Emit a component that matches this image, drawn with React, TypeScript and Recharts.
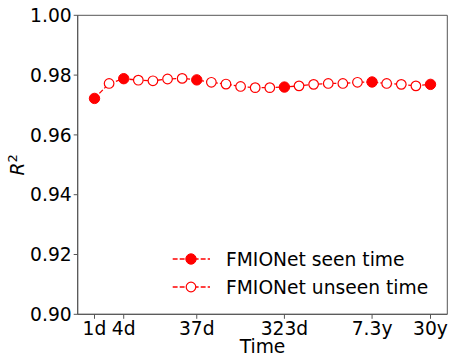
import React from 'react';
import { ComposedChart, Line, XAxis, YAxis, Legend, ReferenceArea } from 'recharts';

const timeIndex = [0, 1, 2, 3, 4, 5, 6, 7, 8, 9, 10, 11, 12, 13, 14, 15, 16, 17, 18, 19, 20, 21, 22, 23];
const r2Values = [0.9722, 0.9772, 0.9788, 0.9783, 0.9781, 0.9787, 0.9789, 0.9784, 0.9776, 0.977, 0.9762, 0.9758, 0.9758, 0.976, 0.9764, 0.9769, 0.9772, 0.9772, 0.9776, 0.9777, 0.9772, 0.9769, 0.9764, 0.9769];
const seenFlags = [1, 0, 1, 0, 0, 0, 0, 1, 0, 0, 0, 0, 0, 1, 0, 0, 0, 0, 0, 1, 0, 0, 0, 1];
const tickPositions = [0, 2, 7, 13, 19, 23];
const tickLabels = ['1d', '4d', '37d', '323d', '7.3y', '30y'];
const yTicks = [0.9, 0.92, 0.94, 0.96, 0.98, 1.0];
const seriesNames = ['FMIONet seen time', 'FMIONet unseen time'];

const data = timeIndex.map((t, i) => ({ t, r2: r2Values[i], seen: seenFlags[i] }));

const FONT = 'DejaVu Sans';
const FS = 18.7;
const RED = '#ff0000';
const AXIS = '#555555';

const Dot = (props: any) => {
  const { cx, cy, payload, index } = props;
  if (cx == null || cy == null) return null;
  return payload.seen ? (
    <circle key={index} cx={cx} cy={cy} r={5.2} fill={RED} stroke={RED} strokeWidth={1} />
  ) : (
    <circle key={index} cx={cx} cy={cy} r={4.8} fill="#ffffff" stroke={RED} strokeWidth={1.2} />
  );
};

const LegendContent = () => (
  <svg width={290} height={60} style={{ display: 'block' }}>
    {seriesNames.map((name, i) => {
      const y = 14 + i * 28;
      return (
        <g key={name}>
          <line x1={7.7} x2={45} y1={y} y2={y} stroke={RED} strokeWidth={1.3} strokeDasharray="4.9 2.1" />
          {i === 0 ? (
            <circle cx={26} cy={y} r={5.2} fill={RED} stroke={RED} />
          ) : (
            <circle cx={26} cy={y} r={4.8} fill="#fff" stroke={RED} strokeWidth={1.2} />
          )}
          <text x={61} y={y} dy="0.36em" fontFamily={FONT} fontSize={FS} fill="#000">{name}</text>
        </g>
      );
    })}
  </svg>
);

const YLabel = (props: any) => {
  const vb = props.viewBox || {};
  const cy = (vb.y ?? 15) + (vb.height ?? 299) / 2;
  const x = 24;
  return (
    <text transform={`translate(${x}, ${cy}) rotate(-90)`} textAnchor="middle" fontFamily={FONT} fontSize={FS} fill="#000">
      <tspan fontStyle="italic">R</tspan>
      <tspan fontSize={13} dy={-7}>2</tspan>
    </text>
  );
};

const XLabel = (props: any) => {
  const vb = props.viewBox || {};
  const cx = (vb.x ?? 77.7) + (vb.width ?? 369.6) / 2;
  return (
    <text x={cx} y={353} textAnchor="middle" fontFamily={FONT} fontSize={FS} fill="#000">Time</text>
  );
};

export default function App() {
  return (
    <div style={{ position: 'absolute', left: 0, top: 0, width: 450, height: 356, background: '#fff' }}>
      <ComposedChart width={450} height={356} data={data} margin={{ top: 15.3, right: 2.7, bottom: 0, left: 0 }}>
        <XAxis
          dataKey="t"
          type="number"
          domain={[-1.15, 24.15]}
          allowDataOverflow
          ticks={tickPositions}
          tickFormatter={(v: number) => tickLabels[tickPositions.indexOf(v)] ?? ''}
          height={41.7}
          tickSize={4.5}
          tickMargin={2.5}
          interval={0}
          axisLine={{ stroke: AXIS, strokeWidth: 1 }}
          tickLine={{ stroke: AXIS, strokeWidth: 1 }}
          tick={{ fill: '#000', fontSize: FS, fontFamily: FONT }}
          label={<XLabel />}
        />
        <YAxis
          type="number"
          domain={[0.9, 1.0]}
          allowDataOverflow
          ticks={yTicks}
          interval={0}
          tickFormatter={(v: number) => v.toFixed(2)}
          width={77.7}
          tickSize={4}
          tickMargin={2}
          axisLine={{ stroke: AXIS, strokeWidth: 1 }}
          tickLine={{ stroke: AXIS, strokeWidth: 1 }}
          tick={{ fill: '#000', fontSize: FS, fontFamily: FONT }}
          label={<YLabel />}
        />
        <ReferenceArea x1={-1.15} x2={24.15} y1={0.9} y2={1.0} fill="none" stroke={AXIS} strokeWidth={1} ifOverflow="visible" />
        <Line
          dataKey="r2"
          stroke={RED}
          strokeWidth={1.3}
          strokeDasharray="4.9 2.1"
          dot={<Dot />}
          activeDot={false}
          isAnimationActive={false}
          legendType="none"
        />
        <Legend
          layout="horizontal"
          verticalAlign="middle"
          content={<LegendContent />}
          wrapperStyle={{ position: 'absolute', left: 165, top: 245, width: 290, height: 60 }}
        />
      </ComposedChart>
    </div>
  );
}
